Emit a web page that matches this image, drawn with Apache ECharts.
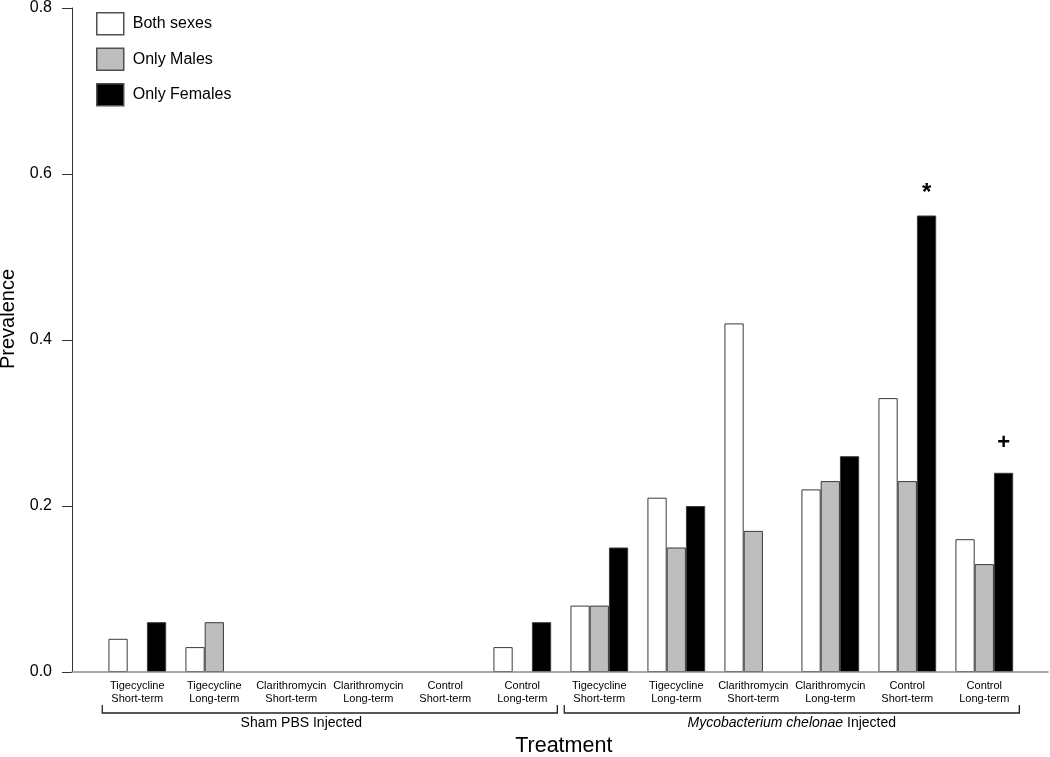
<!DOCTYPE html>
<html>
<head>
<meta charset="utf-8">
<script src="https://cdn.jsdelivr.net/npm/echarts@6/dist/echarts.min.js"></script>
<style>
html,body{margin:0;padding:0;background:#fff;}
#chart{width:1050px;height:757px;}
</style>
</head>
<body>
<div id="chart"></div>
<script>
// ---- data ----
const categories = [
  'Tigecycline\nShort-term', 'Tigecycline\nLong-term', 'Clarithromycin\nShort-term',
  'Clarithromycin\nLong-term', 'Control\nShort-term', 'Control\nLong-term',
  'Tigecycline\nShort-term', 'Tigecycline\nLong-term', 'Clarithromycin\nShort-term',
  'Clarithromycin\nLong-term', 'Control\nShort-term', 'Control\nLong-term'
];
const seriesNames = ['Both sexes', 'Only Males', 'Only Females'];
const bothSexes   = [0.04, 0.03, 0, 0, 0, 0.03, 0.08, 0.21, 0.42, 0.22, 0.33, 0.16];
const onlyMales   = [0, 0.06, 0, 0, 0, 0, 0.08, 0.15, 0.17, 0.23, 0.23, 0.13];
const onlyFemales = [0.06, 0, 0, 0, 0, 0.06, 0.15, 0.20, 0, 0.26, 0.55, 0.24];
const femaleMarks = ['', '', '', '', '', '', '', '', '', '', '*', '+'];
const yTicks = [0, 0.2, 0.4, 0.6, 0.8];
const groupNames = ['Sham PBS Injected', '{i|Mycobacterium chelonae} Injected'];
const groupStart = [0, 6];
const groupEnd = [5, 11];

// ---- styles ----
const FONT = '"Liberation Sans", Arial, Helvetica, sans-serif';
const fills = ['#ffffff', '#bebebe', '#000000'];
const borderCol = '#3a3a3a';

const chart = echarts.init(document.getElementById('chart'), null, {renderer: 'canvas'});

function makeSeries(name, values, idx, marks) {
  return {
    name: name,
    type: 'bar',
    xAxisIndex: 0,
    yAxisIndex: 0,
    barGap: '0%',
    barCategoryGap: '25%',
    itemStyle: {color: fills[idx], borderColor: borderCol, borderWidth: 1},
    emphasis: {disabled: true},
    data: values.map((v, i) => {
      const item = {value: v};
      if (v === 0) {
        item.itemStyle = {borderWidth: 0};
      }
      if (marks && marks[i]) {
        const isStar = marks[i] === '*';
        item.label = {
          show: true, position: 'top', formatter: marks[i],
          distance: isStar ? 10 : 19,
          fontFamily: FONT, fontWeight: 'bold',
          fontSize: isStar ? 24 : 22, color: '#000'
        };
      }
      return item;
    })
  };
}

const option = {
  animation: false,
  backgroundColor: '#fff',
  textStyle: {fontFamily: FONT},
  legend: {
    orient: 'vertical',
    left: 96, top: 12, padding: 0,
    itemWidth: 27, itemHeight: 22, itemGap: 12,
    icon: 'rect',
    selectedMode: false,
    textStyle: {fontFamily: FONT, fontSize: 16, color: '#000', padding: [0, 0, 0, 4]},
    data: seriesNames.map((n, i) => ({
      name: n,
      itemStyle: {color: fills[i], borderColor: '#505050', borderWidth: 1.5}
    }))
  },
  grid: [
    {left: 98.8, right: 27.2, top: 8, bottom: 85, containLabel: false, outerBoundsMode: 'none'},
    {left: 72, right: 2, top: 8, bottom: 85, containLabel: false, outerBoundsMode: 'none'}
  ],
  xAxis: [
    {
      type: 'category', gridIndex: 0, data: categories,
      axisLine: {show: false}, axisTick: {show: false},
      axisLabel: {fontFamily: FONT, fontSize: 11, lineHeight: 13, color: '#000', margin: 7, interval: 0},
      name: 'Treatment', nameLocation: 'middle', nameGap: 63,
      nameTextStyle: {fontFamily: FONT, fontSize: 21.5, color: '#000', padding: [0, 0, 0, 6]}
    },
    {
      type: 'value', gridIndex: 1, min: 0, max: 1, z: 10,
      axisLine: {show: true, lineStyle: {color: '#8a8a8a', width: 1.5}},
      axisTick: {show: false}, axisLabel: {show: false}, splitLine: {show: false}
    }
  ],
  yAxis: [
    {
      type: 'value', gridIndex: 0, min: yTicks[0], max: yTicks[yTicks.length - 1], interval: 0.2,
      offset: 26.8,
      axisLine: {show: true, lineStyle: {color: '#333', width: 1}},
      axisTick: {show: true, length: 10, lineStyle: {color: '#333', width: 1}},
      axisLabel: {fontFamily: FONT, fontSize: 16, color: '#000', margin: 20,
        formatter: v => v.toFixed(1)},
      splitLine: {show: false},
      name: 'Prevalence', nameLocation: 'middle', nameGap: 42,
      nameTextStyle: {fontFamily: FONT, fontSize: 20, color: '#000', padding: [0, 0, 0, 42]}
    },
    {
      type: 'value', gridIndex: 1, min: 0, max: 1, show: false
    }
  ],
  series: [
    makeSeries(seriesNames[0], bothSexes, 0, null),
    makeSeries(seriesNames[1], onlyMales, 1, null),
    makeSeries(seriesNames[2], onlyFemales, 2, femaleMarks)
  ]
};

chart.setOption(option);

// brackets and group labels, positioned from the axis scales
const c0 = chart.convertToPixel({xAxisIndex: 0}, 0);
const c1 = chart.convertToPixel({xAxisIndex: 0}, 1);
const bw = c1 - c0;
const yBase = chart.convertToPixel({yAxisIndex: 0}, 0);
const graphics = [];
groupNames.forEach((g, k) => {
  const xa = chart.convertToPixel({xAxisIndex: 0}, groupStart[k]) - 0.455 * bw;
  const xb = chart.convertToPixel({xAxisIndex: 0}, groupEnd[k]) + 0.455 * bw;
  graphics.push({
    type: 'polyline', silent: true,
    shape: {points: [[xa, yBase + 33], [xa, yBase + 41], [xb, yBase + 41], [xb, yBase + 33]]},
    style: {stroke: '#222', lineWidth: 1.3, fill: null}
  });
  const cx = k === 0 ? chart.convertToPixel({xAxisIndex: 0}, 2) + 0.13 * bw : (xa + xb) / 2;
  graphics.push({
    type: 'text', silent: true, x: cx, y: yBase + 51,
    style: {
      text: g, fontFamily: FONT, fontSize: 14, fill: '#000',
      align: 'center', verticalAlign: 'middle',
      rich: {i: {fontStyle: 'italic', fontFamily: FONT, fontSize: 14, fill: '#000'}}
    }
  });
});
chart.setOption({graphic: graphics});
</script>
</body>
</html>
